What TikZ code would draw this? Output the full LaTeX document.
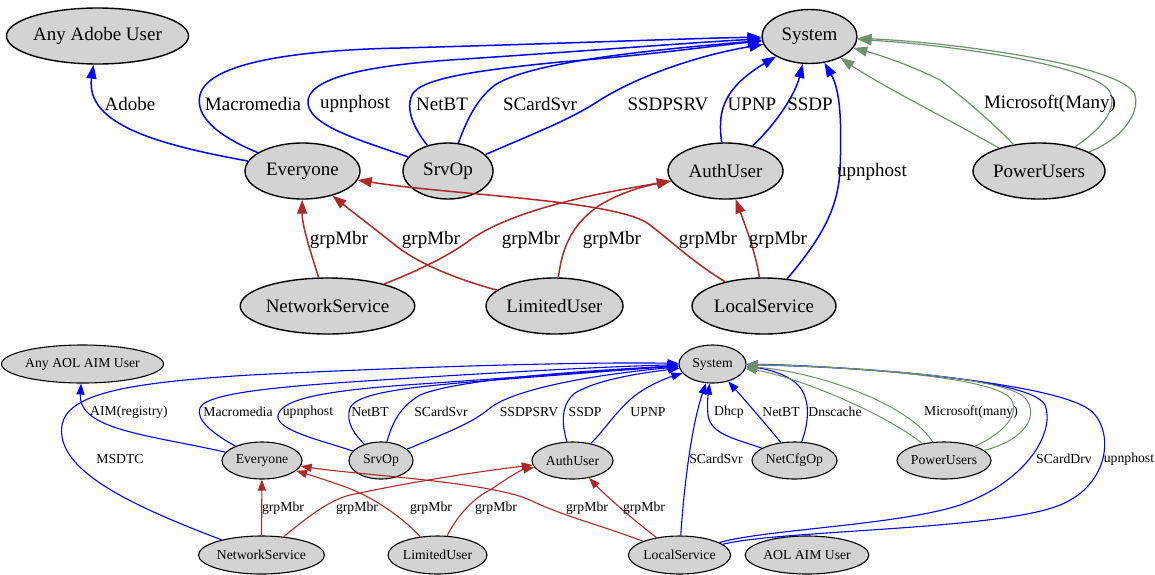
\documentclass[tikz,border=0pt]{standalone}
\usepackage{fontspec}
\setmainfont{Liberation Serif}
\usetikzlibrary{shapes.geometric,arrows.meta}
\definecolor{ngray}{RGB}{211,211,211}
\definecolor{eblue}{RGB}{0,0,255}
\definecolor{ered}{RGB}{175,40,40}
\definecolor{egreen}{RGB}{110,145,110}
\tikzset{
  tnode/.style={ellipse,draw=black,fill=ngray,line width=1.4pt,inner sep=0pt,font=\fontsize{19}{21}\selectfont},
  bnode/.style={ellipse,draw=black,fill=ngray,line width=1.1pt,inner sep=0pt,font=\fontsize{13.7}{15}\selectfont},
  tl/.style={inner sep=0pt,font=\fontsize{19}{21}\selectfont},
  bl/.style={inner sep=0pt,font=\fontsize{13.7}{15}\selectfont},
  te/.style={line width=1.5pt,-{Triangle[length=14pt,width=10pt]}},
  be/.style={line width=1.1pt,-{Triangle[length=11pt,width=8pt]}},
  tblue/.style={te,draw=eblue},
  tred/.style={te,draw=ered},
  tgreen/.style={te,draw=egreen,line width=1.2pt},
  bblue/.style={be,draw=eblue},
  bred/.style={be,draw=ered},
  bgreen/.style={be,draw=egreen,line width=1pt},
}
\newcommand{\nd}[6]{\node[#1,minimum width=#4pt,minimum height=#5pt] (#2) at (#3) {#6};}
\begin{document}
\begin{tikzpicture}[x=1pt,y=-1pt]
\useasboundingbox (0,0) rectangle (1155,574);
% ---------------- top graph nodes
\nd{tnode}{adobe}{97.5,36}{171}{56}{Any Adobe User}
\nd{tnode}{sys}{809.5,36.5}{95}{54}{System}
\nd{tnode}{ev}{302.5,171}{115}{56}{Everyone}
\nd{tnode}{srv}{448,171}{90}{56}{SrvOp}
\nd{tnode}{au}{725.5,171}{115}{56}{AuthUser}
\nd{tnode}{pu}{1039,171}{132}{56}{PowerUsers}
\nd{tnode}{ns}{327.5,306}{165}{56}{NetworkService}
\nd{tnode}{lu}{554.5,306}{137}{56}{LimitedUser}
\nd{tnode}{ls}{764,306}{144}{56}{LocalService}
% top blue edges
\draw[tblue] (ev) .. controls (160,145) and (85,125) .. (adobe);
\draw[tblue] (ev) .. controls (215,135) and (195,115) .. (200,95) .. controls (208,62) and (300,50) .. (400,48) .. controls (550,44) and (700,38) .. (sys);
\draw[tblue] (srv) .. controls (360,140) and (305,125) .. (308,100) .. controls (312,75) and (380,65) .. (450,60) .. controls (600,50) and (700,42) .. (sys);
\draw[tblue] (srv) .. controls (415,130) and (405,110) .. (412,95) .. controls (420,78) and (480,70) .. (560,62) .. controls (650,55) and (720,45) .. (sys);
\draw[tblue] (srv) .. controls (465,125) and (475,100) .. (495,85) .. controls (530,62) and (650,50) .. (sys);
\draw[tblue] (srv) .. controls (530,135) and (570,120) .. (600,100) .. controls (640,75) and (700,55) .. (sys);
\draw[tblue] (au) .. controls (718,115) and (720,90) .. (sys);
\draw[tblue] (au) .. controls (775,125) and (795,95) .. (sys);
\draw[tblue] (ls) .. controls (820,240) and (838,210) .. (840,170) .. controls (842,120) and (840,90) .. (sys);
% top green edges
\draw[tgreen] (pu) .. controls (950,120) and (880,85) .. (sys);
\draw[tgreen] (pu) .. controls (990,120) and (960,95) .. (940,80) .. controls (910,65) and (880,55) .. (sys);
\draw[tgreen] (pu) .. controls (1100,130) and (1118,110) .. (1110,92) .. controls (1095,65) and (950,45) .. (sys);
\draw[tgreen] (pu) .. controls (1120,140) and (1140,115) .. (1135,95) .. controls (1125,65) and (950,42) .. (sys);
% top red edges
\draw[tred] (ns) .. controls (310,250) and (302,225) .. (ev);
\draw[tred] (lu) .. controls (460,280) and (420,265) .. (395,245) .. controls (370,225) and (350,210) .. (ev);
\draw[tred] (ns) .. controls (420,270) and (450,255) .. (470,240) .. controls (520,205) and (620,190) .. (au);
\draw[tred] (lu) .. controls (562,250) and (570,225) .. (600,205) .. controls (625,190) and (650,185) .. (au);
\draw[tred] (ls) .. controls (690,260) and (670,240) .. (650,225) .. controls (620,200) and (450,195) .. (ev);
\draw[tred] (ls) .. controls (755,250) and (745,225) .. (au);
% top labels
\node[tl] (t1) at (130,104) {Adobe};
\node[tl] (t2) at (253,104) {Macromedia};
\node[tl] (t3) at (355,104) {upnphost};
\node[tl] (t4) at (442,104) {NetBT};
\node[tl] (t5) at (540,104) {SCardSvr};
\node[tl] (t6) at (668,104) {SSDPSRV};
\node[tl] (t7) at (752,104) {UPNP};
\node[tl] (t8) at (810,104) {SSDP};
\node[tl] (t9) at (872,172) {upnphost};
\node[tl] (t10) at (1050,104) {Microsoft(Many)};
\node[tl] (t11) at (339,240) {grpMbr};
\node[tl] (t12) at (431,240) {grpMbr};
\node[tl] (t13) at (531,240) {grpMbr};
\node[tl] (t14) at (612,240) {grpMbr};
\node[tl] (t15) at (708,240) {grpMbr};
\node[tl] (t16) at (778,240) {grpMbr};
% ---------------- bottom graph nodes
\nd{bnode}{aol}{82.5,364}{145}{38}{Any AOL AIM User}
\nd{bnode}{bsys}{712.5,364}{67}{38}{System}
\nd{bnode}{bev}{262,460.5}{80}{37}{Everyone}
\nd{bnode}{bsrv}{381,460.5}{64}{37}{SrvOp}
\nd{bnode}{bau}{572.5,460.5}{81}{37}{AuthUser}
\nd{bnode}{ncf}{794.5,460.5}{85}{37}{NetCfgOp}
\nd{bnode}{bpu}{944,460.5}{94}{37}{PowerUsers}
\nd{bnode}{bns}{261.5,555}{117}{38}{NetworkService}
\nd{bnode}{blu}{437.5,555}{99}{38}{LimitedUser}
\nd{bnode}{bls}{679.5,555}{101}{38}{LocalService}
\nd{bnode}{aim}{807,555}{118}{38}{AOL AIM User}
% bottom blue edges
\draw[bblue] (bev) .. controls (150,435) and (78,430) .. (aol);
\draw[bblue] (bns) .. controls (130,505) and (55,470) .. (62,425) .. controls (68,395) and (120,383) .. (250,375) .. controls (450,365) and (600,362) .. (bsys);
\draw[bblue] (bev) .. controls (215,435) and (195,420) .. (200,408) .. controls (205,395) and (260,388) .. (350,382) .. controls (500,372) and (620,366) .. (bsys);
\draw[bblue] (bsrv) .. controls (320,440) and (275,430) .. (278,415) .. controls (282,398) and (330,390) .. (420,384) .. controls (550,375) and (640,368) .. (bsys);
\draw[bblue] (bsrv) .. controls (355,435) and (345,422) .. (350,408) .. controls (356,394) and (400,388) .. (470,382) .. controls (570,374) and (650,368) .. (bsys);
\draw[bblue] (bsrv) .. controls (392,425) and (398,408) .. (420,395) .. controls (460,378) and (600,370) .. (bsys);
\draw[bblue] (bsrv) .. controls (440,435) and (470,425) .. (490,408) .. controls (520,385) and (620,372) .. (bsys);
\draw[bblue] (bau) .. controls (562,425) and (560,405) .. (575,393) .. controls (600,378) and (650,372) .. (bsys);
\draw[bblue] (bau) .. controls (605,430) and (620,405) .. (640,392) .. controls (655,382) and (670,377) .. (bsys);
\draw[bblue] (bls) .. controls (683,500) and (690,430) .. (bsys);
\draw[bblue] (ncf) .. controls (740,440) and (710,435) .. (708,415) .. controls (707,405) and (708,395) .. (bsys);
\draw[bblue] (ncf) .. controls (775,435) and (745,400) .. (bsys);
\draw[bblue] (ncf) .. controls (808,425) and (812,400) .. (798,385) .. controls (785,372) and (760,368) .. (bsys);
\draw[bblue] (bls) .. controls (760,530) and (900,525) .. (960,505) .. controls (1030,480) and (1055,430) .. (1045,405) .. controls (1030,375) and (820,366) .. (bsys);
\draw[bblue] (bls) .. controls (780,530) and (1000,530) .. (1060,505) .. controls (1110,485) and (1115,430) .. (1090,410) .. controls (1050,380) and (830,365) .. (bsys);
% bottom green edges
\draw[bgreen] (bpu) .. controls (880,410) and (790,375) .. (bsys);
\draw[bgreen] (bpu) .. controls (910,405) and (820,372) .. (bsys);
\draw[bgreen] (bpu) .. controls (1010,430) and (1020,410) .. (1010,398) .. controls (990,375) and (830,366) .. (bsys);
\draw[bgreen] (bpu) .. controls (1025,440) and (1040,415) .. (1025,398) .. controls (1005,375) and (830,366) .. (bsys);
% bottom red edges
\draw[bred] (bns) -- (bev);
\draw[bred] (bns) .. controls (310,515) and (330,500) .. (350,495) .. controls (420,480) and (490,470) .. (bau);
\draw[bred] (blu) .. controls (400,515) and (370,495) .. (340,485) .. controls (320,478) and (310,475) .. (bev);
\draw[bred] (blu) .. controls (455,520) and (470,500) .. (490,490) .. controls (505,480) and (520,470) .. (bau);
\draw[bred] (bls) .. controls (600,525) and (560,515) .. (530,500) .. controls (490,482) and (360,475) .. (bev);
\draw[bred] (bls) .. controls (640,525) and (610,500) .. (bau);
% bottom labels
\node[bl] (b1) at (129,412) {AIM(registry)};
\node[bl] (b2) at (238,412) {Macromedia};
\node[bl] (b3) at (308,412) {upnphost};
\node[bl] (b4) at (370,412) {NetBT};
\node[bl] (b5) at (441,412) {SCardSvr};
\node[bl] (b6) at (529,412) {SSDPSRV};
\node[bl] (b7) at (585,412) {SSDP};
\node[bl] (b8) at (648,412) {UPNP};
\node[bl] (b9) at (729,412) {Dhcp};
\node[bl] (b10) at (781,412) {NetBT};
\node[bl] (b11) at (835,412) {Dnscache};
\node[bl] (b12) at (971,412) {Microsoft(many)};
\node[bl] (b13) at (120,459) {MSDTC};
\node[bl] (b14) at (716,459) {SCardSvr};
\node[bl] (b15) at (1064,459) {SCardDrv};
\node[bl] (b16) at (1129,459) {upnphost};
\node[bl] (b17) at (283,508) {grpMbr};
\node[bl] (b18) at (357,508) {grpMbr};
\node[bl] (b19) at (431,508) {grpMbr};
\node[bl] (b20) at (496,508) {grpMbr};
\node[bl] (b21) at (587,508) {grpMbr};
\node[bl] (b22) at (644,508) {grpMbr};
\end{tikzpicture}
\end{document}
